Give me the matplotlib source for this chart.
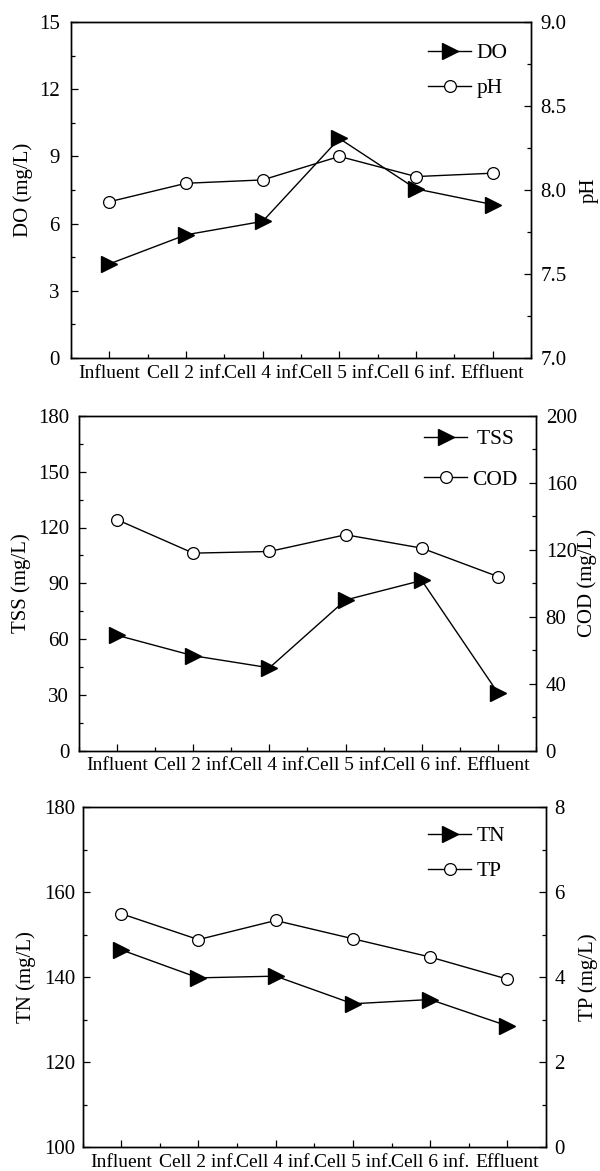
import numpy as np
import matplotlib
matplotlib.use('Agg')
import matplotlib.pyplot as plt
from matplotlib.ticker import MultipleLocator, FormatStrFormatter

plt.rcParams['font.family'] = ['Liberation Serif', 'DejaVu Serif']
plt.rcParams['font.size'] = 15

# Datos
sites = ['Influent', 'Cell 2 inf.', 'Cell 4 inf.', 'Cell 5 inf.', 'Cell 6 inf.', 'Effluent']

do_vals = [4.2, 5.5, 6.1, 9.8, 7.55, 6.85]
ph_vals = [7.93, 8.04, 8.06, 8.20, 8.08, 8.10]

tss_vals = [62, 51, 44.5, 81, 91.5, 31]
cod_vals = [138, 118, 119, 129, 121, 104]

tn_vals = [146.4, 139.8, 140.2, 133.7, 134.7, 128.5]
tp_vals = [5.49, 4.88, 5.33, 4.90, 4.47, 3.95]

W, H = 600, 1171

panels = [
    # caja en pixeles (izq, der, arriba, abajo), datos, etiquetas, limites, leyenda
    dict(box=(71, 531, 22, 358), left=do_vals, right=ph_vals,
         llab='DO (mg/L)', rlab='pH', llim=(0, 15, 3), rlim=(7.0, 9.0, 0.5),
         names=('DO', 'pH'), rfmt='%.1f', lpad=8, rpad=7, leg=(428, 43), lsp=0.7,
         llabx=23, rlabx=589),
    dict(box=(79, 536, 416, 750.5), left=tss_vals, right=cod_vals,
         llab='TSS (mg/L)', rlab='COD (mg/L)', llim=(0, 180, 30), rlim=(0, 200, 40),
         names=(' TSS', 'COD'), rfmt='%d', lpad=7, rpad=7, leg=(424, 429), lsp=0.95,
         llabx=21, rlabx=587),
    dict(box=(82.5, 546, 807, 1147), left=tn_vals, right=tp_vals,
         llab='TN (mg/L)', rlab='TP (mg/L)', llim=(100, 180, 20), rlim=(0, 8, 2),
         names=('TN', 'TP'), rfmt='%d', lpad=5, rpad=6, leg=(428, 826), lsp=0.7,
         llabx=26, rlabx=588),
]

fig = plt.figure(figsize=(W / 100, H / 100), dpi=100)
x = np.arange(len(sites))

for p in panels:
    x0, x1, y0, y1 = p['box']
    ax = fig.add_axes([x0 / W, 1 - y1 / H, (x1 - x0) / W, (y1 - y0) / H])
    ax2 = ax.twinx()

    l1, = ax.plot(x, p['left'], color='black', lw=1.0, marker='>', ms=12,
                  mfc='black', mec='black', label=p['names'][0])
    l2, = ax2.plot(x, p['right'], color='black', lw=1.0, marker='o', ms=8.5,
                   mfc='white', mec='black', mew=0.9, label=p['names'][1])

    ax.set_xlim(-0.5, 5.5)
    ax.set_xticks(x)
    ax.set_xticklabels(sites)
    ax.xaxis.set_minor_locator(MultipleLocator(0.5))

    lo, hi, st = p['llim']
    ax.set_ylim(lo, hi)
    ax.yaxis.set_major_locator(MultipleLocator(st))
    ax.yaxis.set_minor_locator(MultipleLocator(st / 2))
    lo, hi, st = p['rlim']
    ax2.set_ylim(lo, hi)
    ax2.yaxis.set_major_locator(MultipleLocator(st))
    ax2.yaxis.set_minor_locator(MultipleLocator(st / 2))
    ax2.yaxis.set_major_formatter(FormatStrFormatter(p['rfmt']))

    ax.tick_params(axis='both', which='major', direction='in', length=5, width=0.9)
    ax.tick_params(axis='both', which='minor', direction='in', length=3, width=0.9)
    ax.tick_params(axis='x', which='both', top=False, labelsize=14, pad=5)
    ax.tick_params(axis='y', labelsize=15, pad=p['lpad'])
    ax2.tick_params(axis='y', which='major', direction='in', length=5, width=0.9,
                    labelsize=15, pad=p['rpad'])
    ax2.tick_params(axis='y', which='minor', direction='in', length=3, width=0.9)

    for a in (ax, ax2):
        for s in a.spines.values():
            s.set_linewidth(1.0)

    ax.set_ylabel(p['llab'], fontsize=15)
    ax2.set_ylabel(p['rlab'], fontsize=15)
    ax.yaxis.set_label_coords(p['llabx'] / W, 0.5 * (2 - (y0 + y1) / H),
                              transform=fig.transFigure)
    ax2.yaxis.set_label_coords(p['rlabx'] / W, 0.5 * (2 - (y0 + y1) / H),
                               transform=fig.transFigure)
    ax.yaxis.label.set_va('center')
    ax2.yaxis.label.set_va('center')

    lx, ly = p['leg']
    ax.legend(handles=[l1, l2], loc='upper left',
              bbox_to_anchor=(lx / W, 1 - ly / H), bbox_transform=fig.transFigure,
              frameon=False, fontsize=15.5, handlelength=2.0, handletextpad=0.25,
              labelspacing=p['lsp'], borderpad=0, borderaxespad=0)

fig.savefig('out.png', dpi=100)
